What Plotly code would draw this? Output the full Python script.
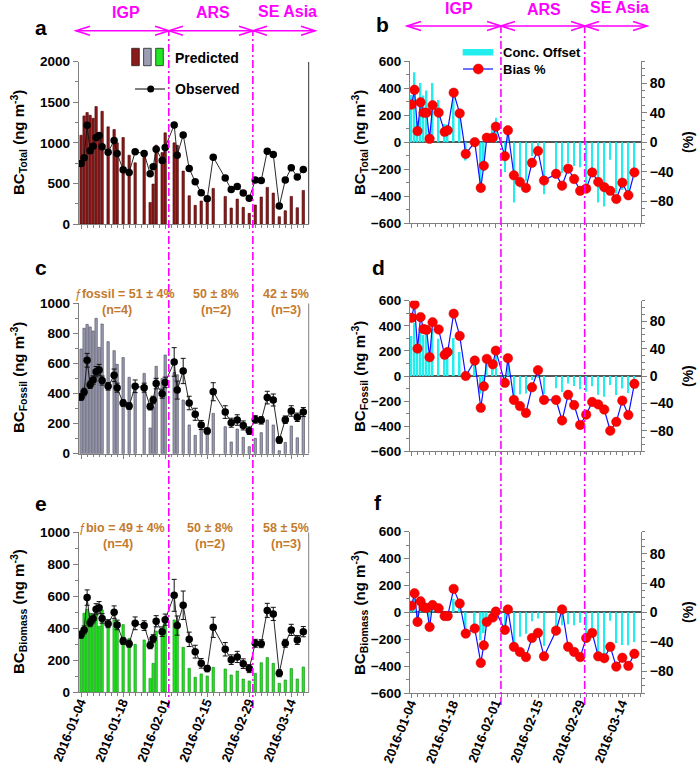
import plotly.graph_objects as go
import pandas as pd

# ---------------- data ----------------
dates = ["2016-01-04", "2016-01-05", "2016-01-06", "2016-01-07", "2016-01-08", "2016-01-09",
         "2016-01-10", "2016-01-11", "2016-01-13", "2016-01-15", "2016-01-16", "2016-01-18",
         "2016-01-20", "2016-01-22", "2016-01-25", "2016-01-27", "2016-01-28", "2016-01-29",
         "2016-01-31", "2016-02-01", "2016-02-04", "2016-02-05", "2016-02-07", "2016-02-09",
         "2016-02-11", "2016-02-13", "2016-02-15", "2016-02-17", "2016-02-21", "2016-02-23",
         "2016-02-25", "2016-02-27", "2016-02-29", "2016-03-02", "2016-03-04", "2016-03-06",
         "2016-03-08", "2016-03-10", "2016-03-12", "2016-03-14", "2016-03-16", "2016-03-18"]

total_pred = [1094, 1332, 1373, 1340, 1303, 1447, 1120, 1389, 1197, 1164, 1000, 1066, 848, 754,
              889, 266, 492, 971, 880, 1123, 1000, 970, 652, 348, 230, 283, 266, 439,
              340, 197, 307, 205, 131, 234, 332, 451, 381, 90, 164, 340, 201, 414]
total_obs = [746, 816, 1217, 902, 959, 1066, 1090, 951, 885, 1029, 869, 668, 635, 889,
             869, 619, 705, 922, 783, 943, 1221, 848, 1098, 684, 520, 385, 311, 824,
             566, 426, 463, 381, 316, 541, 537, 898, 857, 221, 541, 693, 578, 672]

fossil_pred = [696, 834, 860, 843, 816, 900, 707, 862, 745, 685, 594, 639, 508, 463,
               534, 171, 310, 581, 500, 656, 540, 525, 357, 191, 122, 160, 135, 268,
               180, 78, 164, 109, 47, 102, 140, 224, 191, 20, 75, 184, 106, 246]
fossil_obs = [377, 410, 621, 459, 490, 545, 556, 486, 448, 521, 439, 337, 317, 448,
              439, 313, 357, 466, 399, 474, 610, 423, 550, 337, 262, 191, 151, 412,
              277, 206, 224, 188, 153, 228, 222, 373, 357, 91, 226, 284, 242, 277]
fossil_err = [22, 25, 46, 25, 28, 35, 38, 30, 25, 42, 30, 22, 22, 42,
              30, 22, 25, 35, 30, 35, 95, 60, 84, 45, 40, 30, 20, 60,
              42, 30, 35, 30, 25, 25, 25, 42, 40, 22, 25, 35, 28, 30]

bio_pred = [390, 494, 519, 494, 483, 529, 413, 515, 442, 452, 406, 423, 337, 300,
            327, 87, 181, 383, 380, 467, 452, 445, 281, 150, 94, 115, 102, 156,
            146, 108, 133, 83, 71, 119, 185, 217, 181, 56, 77, 148, 83, 158]
bio_obs = [360, 390, 592, 435, 462, 519, 529, 462, 429, 500, 421, 321, 304, 431,
           417, 294, 335, 444, 379, 454, 606, 417, 544, 331, 254, 181, 148, 406,
           269, 204, 221, 179, 148, 306, 304, 512, 490, 119, 306, 390, 327, 379]
bio_err = [22, 25, 48, 25, 28, 35, 38, 30, 25, 40, 30, 22, 22, 40,
           30, 22, 25, 35, 30, 35, 100, 60, 89, 45, 40, 30, 20, 63,
           42, 30, 35, 30, 25, 25, 25, 44, 41, 22, 25, 35, 28, 32]

total_offset = [348, 516, 156, 438, 344, 381, 30, 438, 312, 135, 131, 398, 213, -135,
                20, -353, -213, 49, 97, 180, -221, 122, -446, -336, -290, -102, -45, -385,
                -226, -229, -156, -176, -185, -307, -205, -447, -476, -131, -377, -353, -377, -258]
total_bias = [51, 71, 15, 54, 40, 40, 4.5, 50, 40, 14, 16, 67, 39, -16,
              0, -62, -32, 6, 6, 21, -19, 16, -45, -54, -62, -28, -12, -52,
              -43, -59, -36, -50, -66, -63, -41, -54, -61, -66, -77, -55, -72, -41]

fossil_offset = [319, 424, 239, 384, 326, 355, 151, 376, 297, 164, 155, 302, 191, 15,
                 95, -142, -47, 115, 101, 182, -70, 102, -193, -146, -140, -31, -16, -144,
                 -97, -128, -60, -79, -106, -126, -82, -149, -166, -71, -151, -100, -136, -31]
fossil_bias = [85, 104.5, 40, 86, 68.5, 67.5, 27.5, 78.5, 68, 31, 35, 91, 58.5, 0,
               22.5, -46.5, -15, 25, 17, 37, -10, 26, -35, -44, -54, -16.5, 8.5, -35,
               -35, -65, -27.5, -42.5, -71.5, -56.5, -38, -41.5, -49, -80, -67, -36, -57, -11.5]

bio_offset = [30, 104, -73, 59, 21, 10, -116, 53, 13, -48, -15, 102, 33, -131,
              -90, -207, -154, -61, 1, 13, -154, 28, -263, -181, -160, -66, -46, -250,
              -123, -96, -88, -96, -77, -187, -119, -295, -309, -63, -229, -242, -244, -221]
bio_bias = [9, 26, -13, 15, 7, 6, -20, 10, 5.5, -5, -5, 32, 12, -29,
            -22, -69, -45, -13, -7, 1, -24, 4, -47, -54, -61, -35, -28, -60,
            -25, 4, -47, -54, -61, -35, -28, -60, -62.5, -47, -74, -62, -73, -56.5]

regions = ["IGP", "ARS", "SE Asia"]
tick_dates = ["2016-01-04", "2016-01-18", "2016-02-01", "2016-02-15", "2016-02-29", "2016-03-14"]

# ---------------- layout helpers ----------------
W, H = 697, 766
FONT = "Liberation Sans, Arial, sans-serif"
MAG = "#FF00FF"
BROWN = "#C47A2E"
AXC = "#808080"
DAY = 86400000


def X(p):
    return p / W


def Y(p):
    return 1 - p / H


base = pd.Timestamp("2016-01-04")


def d(off):
    return (base + pd.Timedelta(days=off)).strftime("%Y-%m-%d %H:%M:%S")


LEFT_RANGE = [d(-0.8), d(75.8)]
RIGHT_RANGE = [d(-0.5), d(76.2)]
LEFT_DOM = [X(78.7), X(308.7)]
RIGHT_DOM = [X(410), X(641)]

fig = go.Figure()

# left panels (a, c, e)
left_specs = [
    ("x", "y", total_pred, total_obs, None, "#8B1A1A", "#4A0505"),
    ("x2", "y2", fossil_pred, fossil_obs, fossil_err, "#9C9CB2", "#4A4A5A"),
    ("x3", "y3", bio_pred, bio_obs, bio_err, "#22E622", "#118811"),
]
for xa, ya, pred, obs, err, col, edge in left_specs:
    fig.add_trace(go.Bar(x=dates, y=pred, xaxis=xa, yaxis=ya, width=0.8 * DAY,
                         marker=dict(color=col, line=dict(color=edge, width=0.6))))
    sc = dict(x=dates, y=obs, xaxis=xa, yaxis=ya, mode="lines+markers",
              line=dict(color="#111111", width=0.9),
              marker=dict(color="black", size=7.5))
    if err is not None:
        sc["error_y"] = dict(type="data", array=err, color="#111111", thickness=1, width=2.5)
    fig.add_trace(go.Scatter(**sc))

# right panels (b, d, f)
right_specs = [
    ("x4", "y4", "y7", total_offset, total_bias),
    ("x5", "y5", "y8", fossil_offset, fossil_bias),
    ("x6", "y6", "y9", bio_offset, bio_bias),
]
for xa, ya, ya2, off, bias in right_specs:
    fig.add_trace(go.Bar(x=dates, y=off, xaxis=xa, yaxis=ya, width=0.55 * DAY,
                         marker=dict(color="#22EEEE", line=dict(width=0))))
    fig.add_trace(go.Scatter(x=dates, y=bias, xaxis=xa, yaxis=ya2, mode="lines+markers",
                             line=dict(color="#1010FF", width=1.2),
                             marker=dict(color="#FF0000", size=9.5,
                                         line=dict(color="#CC0000", width=0.5))))


def tf(size):
    return dict(family=FONT, size=size, color="black", weight="bold")


layout = dict(
    width=W, height=H, template="none", showlegend=False,
    margin=dict(l=0, r=0, t=0, b=0, autoexpand=False),
    paper_bgcolor="white", plot_bgcolor="rgba(0,0,0,0)",
    font=dict(family=FONT, color="black"),
    barmode="overlay",
)


def xaxis_cfg(dom, rng, anchor):
    return dict(domain=dom, range=rng, type="date", anchor=anchor,
                showline=True, linecolor=AXC, linewidth=1, showgrid=False, zeroline=False,
                ticks="outside", ticklen=4, tickcolor=AXC,
                tick0="2016-01-04", dtick=14 * DAY, showticklabels=False,
                minor=dict(dtick=2 * DAY, tick0="2016-01-04", ticks="outside",
                           ticklen=2.5, tickcolor=AXC))


def yaxis_cfg(dom, rng, anchor, dtick, mdt, fsize, zero=False, side="left", overlay=None):
    cfg = dict(domain=dom, range=rng, anchor=anchor, side=side,
               showline=True, linecolor=AXC, linewidth=1, showgrid=False,
               zeroline=zero, zerolinecolor="#555555", zerolinewidth=1.5,
               ticks="outside", ticklen=5, tickcolor=AXC, tickmode="linear",
               tick0=0, dtick=dtick, tickfont=tf(fsize),
               minor=dict(dtick=mdt, tick0=0, ticks="outside", ticklen=3, tickcolor=AXC))
    if overlay:
        cfg["overlaying"] = overlay
    return cfg


ydoms_left = [(224, 61.7), (453.7, 303.3), (692.3, 532.3)]
ydoms_right = [(223.3, 61), (451.3, 300.7), (693, 531.7)]
left_ranges = [([0, 2000], 500, 250), ([0, 1000], 200, 100), ([0, 1000], 200, 100)]

for i in range(3):
    n = i + 1
    s = "" if n == 1 else str(n)
    layout[f"xaxis{s}"] = xaxis_cfg(LEFT_DOM, LEFT_RANGE, f"y{s}")
    lo, hi = ydoms_left[i]
    rng, dt, mdt = left_ranges[i]
    layout[f"yaxis{s}"] = yaxis_cfg([Y(lo), Y(hi)], rng, f"x{s}", dt, mdt, 13.5)

for i in range(3):
    n = i + 4
    layout[f"xaxis{n}"] = xaxis_cfg(RIGHT_DOM, RIGHT_RANGE, f"y{n}")
    lo, hi = ydoms_right[i]
    layout[f"yaxis{n}"] = yaxis_cfg([Y(lo), Y(hi)], [-600, 600], f"x{n}", 200, 100, 13.5, zero=True)
    layout[f"yaxis{n + 3}"] = yaxis_cfg([Y(lo), Y(hi)], [-110, 110], f"x{n}", 40, 10, 14,
                                        side="right", overlay=f"y{n}")

fig.update_layout(**layout)

shapes = []
annotations = []


def line(x0, y0, x1, y1, color=MAG, width=1.6, dash=None):
    ln = dict(color=color, width=width)
    if dash:
        ln["dash"] = dash
    shapes.append(dict(type="line", xref="paper", yref="paper",
                       x0=X(x0), y0=Y(y0), x1=X(x1), y1=Y(y1), line=ln))


def chevron(tx, ty, direction):
    s = 14 * direction
    path = f"M {X(tx + s)} {Y(ty - 4.5)} L {X(tx)} {Y(ty)} L {X(tx + s)} {Y(ty + 4.5)}"
    shapes.append(dict(type="path", xref="paper", yref="paper", path=path,
                       line=dict(color=MAG, width=1.6)))


def text(x, y, t, size=12, color="black", xanchor="center", angle=0, bold=True):
    annotations.append(dict(xref="paper", yref="paper", x=X(x), y=Y(y), text=t,
                            showarrow=False, xanchor=xanchor, yanchor="middle",
                            textangle=angle,
                            font=dict(family=FONT, size=size, color=color,
                                      weight="bold" if bold else "normal")))


# rotated date tick labels under the bottom panels
for xa, ytop in [("x3", 695), ("x6", 696)]:
    for t in tick_dates:
        annotations.append(dict(xref=xa, yref="paper", x=t, y=Y(ytop), text=t,
                                showarrow=False, xanchor="right", yanchor="top",
                                xshift=9, textangle=-68, borderpad=0,
                                font=dict(family=FONT, size=13, color="black", weight="bold")))

# region arrows and labels
for (xs, ya, lab_y, lab_x) in [((76, 169, 253, 315), 30.7, (12.8, 12.8, 11.3), (126, 213, 287)),
                               ((407, 501, 585, 647), 26, (8.7, 9.5, 7.5), (459, 544, 619))]:
    line(xs[0], ya, xs[3], ya)
    for k in range(3):
        chevron(xs[k], ya, 1)
        chevron(xs[k + 1], ya, -1)
        text(lab_x[k], lab_y[k], regions[k], size=16, color=MAG)

# vertical dash-dot region boundaries
for xa, offs, y0, y1 in [("x", (29.2, 57.2), 708, 30.7), ("x4", (29.7, 57.5), 705, 26)]:
    for o in offs:
        shapes.append(dict(type="line", xref=xa, yref="paper", x0=d(o), x1=d(o),
                           y0=Y(y0), y1=Y(y1),
                           line=dict(color=MAG, width=1.6, dash="8px,3px,2px,3px")))

# right edge lines of left panels
for xa, ya, top, col in [("x", "y", 2000, "#333333"), ("x2", "y2", 1000, AXC), ("x3", "y3", 1000, AXC)]:
    shapes.append(dict(type="line", xref=f"{xa} domain", yref=ya, x0=1, x1=1, y0=0, y1=top,
                       line=dict(color=col, width=1)))

# legend panel a
for (x0, col) in [(131.7, "#8B1A1A"), (143.6, "#9C9CB2"), (155.7, "#22E622")]:
    shapes.append(dict(type="rect", xref="paper", yref="paper", x0=X(x0), x1=X(x0 + 7.6),
                       y0=Y(65.7), y1=Y(48.3), fillcolor=col, line=dict(color="#222222", width=0.8)))
text(173, 57.5, "Predicted", size=14, xanchor="left")
line(135, 89, 165, 89, color="black", width=1)
shapes.append(dict(type="circle", xref="paper", yref="paper", x0=X(147.2), x1=X(154.2),
                   y0=Y(92.5), y1=Y(85.5), fillcolor="black", line=dict(color="black", width=0)))
text(173, 89, "Observed", size=14, xanchor="left")

# legend panel b
shapes.append(dict(type="rect", xref="paper", yref="paper", x0=X(462.7), x1=X(493.3),
                   y0=Y(55.5), y1=Y(49), fillcolor="#22EEEE", line=dict(width=0)))
text(501, 52, "Conc. Offset", size=13, xanchor="left")
line(463, 69, 493, 69, color="#1010FF", width=1.2)
shapes.append(dict(type="circle", xref="paper", yref="paper", x0=X(473.3), x1=X(483.3),
                   y0=Y(74), y1=Y(64), fillcolor="#FF0000", line=dict(color="#CC0000", width=0.5)))
text(501, 69, "Bias %", size=13, xanchor="left")

# panel letters
for lx, ly, lt in [(41, 28, "a"), (382, 24, "b"), (41, 267, "c"), (379, 267, "d"),
                   (41, 504, "e"), (378, 502, "f")]:
    text(lx, ly, lt, size=21)

# y titles
for tx, ty, sub in [(18, 143, "Total"), (18, 378, "Fossil"), (18, 612, "Biomass"),
                    (359, 142, "Total"), (359, 376, "Fossil"), (359, 612, "Biomass")]:
    text(tx, ty, f"BC<sub>{sub}</sub> (ng m<sup>-3</sup>)", size=15, angle=-90)
for ty in (142, 376, 612):
    text(688, ty, "(%)", size=14, angle=-90)

# fraction annotations
text(125, 294, "ƒ<b>fossil = 51 ± 4%</b>", size=12.5, color=BROWN, bold=False)
text(117, 309.5, "(n=4)", size=12.5, color=BROWN)
text(215.7, 294, "50 ± 8%", size=12.5, color=BROWN)
text(215.7, 309.5, "(n=2)", size=12.5, color=BROWN)
text(285.7, 294, "42 ± 5%", size=12.5, color=BROWN)
text(285.7, 309.5, "(n=3)", size=12.5, color=BROWN)

text(122, 527.5, "ƒ<b>bio = 49 ± 4%</b>", size=12.5, color=BROWN, bold=False)
text(118.3, 543.5, "(n=4)", size=12.5, color=BROWN)
text(210, 527.5, "50 ± 8%", size=12.5, color=BROWN)
text(210, 543.5, "(n=2)", size=12.5, color=BROWN)
text(285.7, 527.5, "58 ± 5%", size=12.5, color=BROWN)
text(285.7, 543.5, "(n=3)", size=12.5, color=BROWN)

fig.update_layout(shapes=shapes, annotations=annotations)
fig.write_html("out.html", config={"displayModeBar": False},
               post_script="document.body.style.margin='0';document.body.style.padding='0';")
